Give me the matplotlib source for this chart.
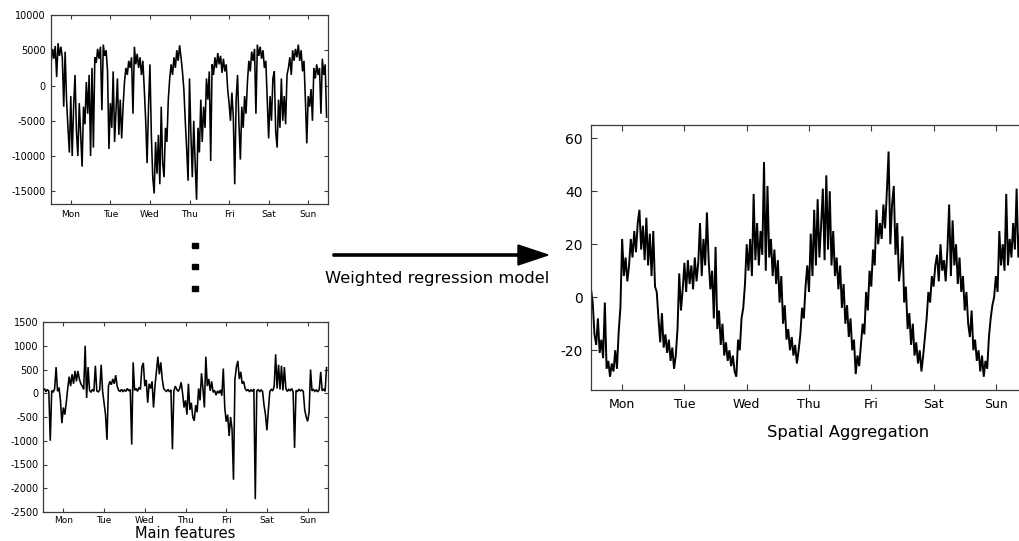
import matplotlib

matplotlib.use("Agg")
import matplotlib.pyplot as plt  # noqa: E402
import numpy as np  # noqa: E402
from matplotlib.patches import FancyArrow, Rectangle  # noqa: E402

DAYS = ["Mon", "Tue", "Wed", "Thu", "Fri", "Sat", "Sun"]

# values, 28 samples per day (top-left panel)
FEATURE_A = [
    3000, 5200, 3800, 5600, 1200, 6000, 4200, 5500, 4000, -3000, 4800, -2000, -6000, -9500,
    -1500, -10000, -3000, 1500, -6500, -10000, -2500, -7000, -11500, -3000, -5500, 500, -4000, 1500,
    -10000, 2500, -8800, 4000, 3200, 5200, 3800, 5500, -3500, 5800, 4200, 5000, 2000, -9000,
    -2500, -6000, 2000, -8000, -3500, 1000, -7000, -2000, -7500, -3000, 500, 2500, 1500, 3500,
    2500, 4000, -4000, 5500, 3000, 4500, 2500, 4000, 1500, 3500, -500, -5000, -11000, -3000,
    3000, -7000, -13000, -15300, -8000, -12500, -7000, -14000, -3000, -11000, -13000, -6000, -8000, -2000,
    1000, 3000, 1500, 4000, 2500, 5000, 3500, 5700, 4000, 2000, -500, -5000, -9000, -13500,
    1000, -7000, -13000, -5000, -11000, -16200, -6000, -9500, -2000, -8000, -3000, -6000, 1000, -2000,
    2000, -10700, 3000, 1500, 4000, 2500, 4600, 3000, 4200, 1800, 3800, 2000, 3000, -500,
    -2500, -5000, -1000, -4500, -14000, -2000, 1500, -5500, -10500, -3000, -6000, -1500, -4000, 500,
    3500, 2000, 4800, 3500, 5200, -4000, 5800, 4200, 5500, 3800, 5000, 2500, 3500, -2000,
    -7500, -1500, -5000, 1000, 2000, -6500, -8800, -2000, -6000, 1000, -5000, -1500, -5500, 1500,
    2500, 4000, 1500, 5000, 3500, 5200, 4000, 5800, 3500, 5000, 2000, 3500, -2000, -8200,
    -1500, -3000, -500, -5000, 2500, 1000, 3000, 1500, 2500, -4000, 3800, 1500, 3000, -4500,
]

# bottom-left panel, 28 samples per day
FEATURE_B = [
    50, 100, 30, 80, 40, -1000, 60, 20, 90, 550, 40, 120, -150, -630,
    -300, -450, -200, 100, 350, 150, 400, 200, 470, 250, 470, 300, 200, 150,
    80, 1000, -100, 550, 60, 20, 80, 40, 580, 50, 30, 70, 600, 40,
    -200, -450, -980, 150, 250, 180, 300, 200, 380, 150, 60, 40, 80, 30,
    70, 40, 100, 50, 80, -1080, 650, 60, 100, 40, 120, 80, 550, 640,
    150, 280, -200, 200, 100, 250, -300, 150, 450, 770, 400, 650, 300, 100,
    60, 40, 80, 30, 70, -1180, 50, 150, 80, 40, 100, 230, 0, -300,
    -150, -450, 200, -350, -200, -500, -580, -250, -400, 100, -150, 420, 100, -300,
    770, 150, 300, 50, 250, 20, 60, -40, 50, 0, 70, -50, 520, -300,
    -600, -450, -900, -500, -750, -1820, 300, 550, 680, 300, 450, 200, 250, 100,
    50, 80, 30, 70, 40, 90, -2230, 50, 80, 30, 70, 40, -250, -450,
    -780, -350, 40, 80, 50, 150, 820, 100, 600, 80, 580, 60, 550, 100,
    40, 80, 50, 100, 30, -1150, 60, 40, 80, 50, 70, 40, -350, -500,
    -590, -400, 500, 50, 80, 40, 70, 30, 80, 450, 50, 90, 40, 540,
]

# right panel (spatial aggregation), 36 samples per day
AGGREGATE = [
    3, -2, -14, -18, -8, -21, -16, -23, -2, -27, -24, -30, -25, -28, -20, -27, -13, -4,
    22, 8, 15, 6, 12, 22, 15, 25, 17, 28, 33, 18, 27, 14, 30, 12, 24, 8,
    25, 4, 2, -8, -17, -6, -19, -14, -21, -16, -24, -19, -27, -22, -12, 9, -5, 3,
    13, 2, 14, 5, 12, 3, 15, 6, 13, 28, 8, 22, 12, 32, 14, 3, 10, -8,
    19, -12, -5, -18, -10, -22, -17, -24, -20, -26, -22, -28, -30, -16, -20, -8, -4, 5,
    20, 10, 22, 8, 39, 14, 28, 12, 25, 16, 51, 10, 42, 15, 22, 8, 18, 5,
    14, -2, 8, -10, -3, -16, -12, -20, -15, -22, -18, -25, -20, -14, -4, -8, 4, 12,
    2, 24, 8, 33, 12, 37, 15, 27, 41, 14, 46, 18, 40, 12, 25, 8, 15, 3,
    12, -4, 5, -10, -3, -15, -8, -20, -16, -29, -22, -26, -18, -10, -14, 2, -5, 10,
    4, 18, 12, 33, 20, 28, 22, 35, 26, 40, 55, 20, 35, 42, 16, 28, 6, 12,
    23, -2, 4, -12, -6, -18, -10, -22, -17, -25, -20, -28, -22, -15, -8, 2, -2, 8,
    4, 12, 16, 6, 20, 10, 14, 6, 18, 35, 8, 29, 12, 20, 5, 15, 2, 8,
    -5, 2, -10, -15, -5, -20, -16, -24, -20, -28, -22, -30, -24, -27, -15, -8, -3, 0,
    8, 2, 25, 12, 20, 10, 39, 12, 22, 15, 28, 18, 41, 15, 25, 20, 30, 22,
]

W, H = 1019, 541
SPINE = "#3a3a3a"


def px_axes(fig, left, top, right, bottom):
    return fig.add_axes([left / W, (H - bottom) / H, (right - left) / W, (bottom - top) / H])


def style(ax, yticks, ylim, ysize, xsize, tick_len, pad):
    ax.set_xlim(0, 7)
    ax.set_ylim(*ylim)
    ax.set_xticks(np.arange(7) + 0.5)
    ax.set_xticklabels(DAYS)
    ax.set_yticks(yticks)
    ax.set_yticklabels([str(v) for v in yticks])
    ax.tick_params(direction="in", top=True, right=True, length=tick_len,
                   width=0.8, color=SPINE, pad=pad)
    ax.tick_params(axis="x", labelsize=xsize)
    ax.tick_params(axis="y", labelsize=ysize)
    for sp in ax.spines.values():
        sp.set_color(SPINE)
        sp.set_linewidth(0.9)


def series(ax, values, per_day, lw):
    t = np.arange(len(values)) / per_day
    ax.plot(t, values, color="black", linewidth=lw, solid_joinstyle="miter")


def main():
    fig = plt.figure(figsize=(W / 100, H / 100), dpi=100)

    ax1 = px_axes(fig, 51, 15, 328, 204)
    series(ax1, FEATURE_A, 28, 1.15)
    style(ax1, [-15000, -10000, -5000, 0, 5000, 10000], (-16800, 10000), 7, 6.5, 3, 4)

    ax2 = px_axes(fig, 43, 322, 328, 512)
    series(ax2, FEATURE_B, 28, 1.15)
    style(ax2, list(range(-2500, 1501, 500)), (-2500, 1500), 7, 6.5, 3, 3)

    ax3 = px_axes(fig, 591, 125, 1027, 390)
    series(ax3, AGGREGATE, 36, 1.4)
    style(ax3, [-20, 0, 20, 40, 60], (-35, 65), 10, 9, 4.5, 6)

    # overlay in pixel coordinates for arrow, dots and captions
    ov = fig.add_axes([0, 0, 1, 1])
    ov.set_xlim(0, W)
    ov.set_ylim(H, 0)
    ov.axis("off")
    ov.add_patch(FancyArrow(333, 255, 215, 0, width=2.2, head_width=20, head_length=30,
                            length_includes_head=True, color="black"))
    for y in (245, 266.5, 288):
        ov.add_patch(Rectangle((192, y - 2.5), 6, 5, color="black"))
    ov.text(437, 278, "Weighted regression model", fontsize=11.8, ha="center", va="center")
    ov.text(848, 432, "Spatial Aggregation", fontsize=11.8, ha="center", va="center")
    ov.text(185, 538, "Main features", fontsize=10.5, ha="center", va="baseline")

    fig.savefig("out.png", dpi=100)
    plt.close(fig)


if __name__ == "__main__":
    main()
